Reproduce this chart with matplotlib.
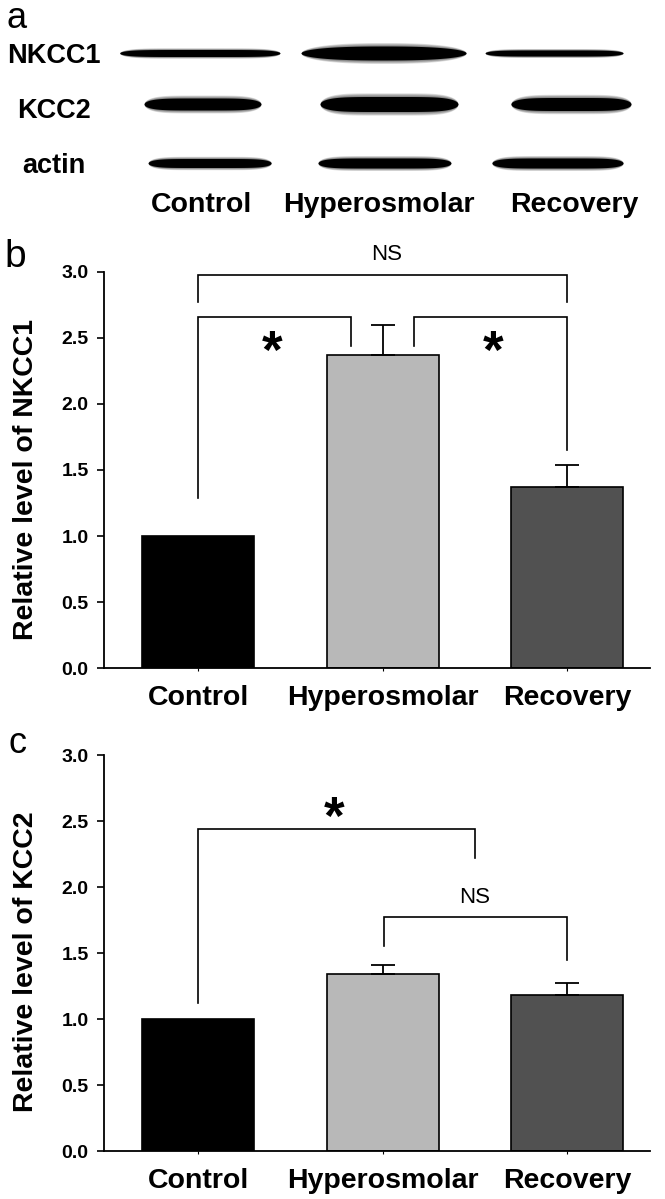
import numpy as np
import matplotlib
matplotlib.use("Agg")
import matplotlib.pyplot as plt

plt.rcParams['font.family'] = ['Liberation Sans', 'DejaVu Sans']

# ---------------- data ----------------
categories = ['Control', 'Hyperosmolar', 'Recovery']
bar_colors = ['#000000', '#b8b8b8', '#515151']

nkcc1_mean = [1.00, 2.37, 1.37]
nkcc1_err = [0.00, 0.23, 0.17]
kcc2_mean = [1.00, 1.34, 1.185]
kcc2_err = [0.00, 0.07, 0.085]

yticks = [0.0, 0.5, 1.0, 1.5, 2.0, 2.5, 3.0]

# brackets: (x_left, x_right, y_top, y_left_end, y_right_end)
nkcc1_brackets = [(0.0, 2.0, 2.98, 2.77, 2.77),
                  (0.0, 0.83, 2.66, 1.29, 2.44),
                  (1.17, 2.0, 2.66, 2.44, 1.65)]
nkcc1_marks = [('NS', 1.02, 3.13), ('*', 0.40, 2.47), ('*', 1.60, 2.47)]

kcc2_brackets = [(0.0, 1.50, 2.44, 1.12, 2.22),
                 (1.01, 2.0, 1.77, 1.555, 1.45)]
kcc2_marks = [('*', 0.74, 2.60), ('NS', 1.50, 1.92)]

# western blot (panel a): band extents in lane units and thickness in px
blot_rows = ['NKCC1', 'KCC2', 'actin']
blot_left = [[-0.425, 0.558, 1.556],
             [-0.293, 0.661, 1.696],
             [-0.271, 0.650, 1.593]]
blot_right = [[0.444, 1.453, 2.304],
              [0.341, 1.409, 2.347],
              [0.396, 1.371, 2.304]]
blot_thick = [[7, 14, 6],
              [12, 15, 13],
              [9, 10, 10]]
blot_shape = [[6, 2.5, 6],
              [5, 5, 5],
              [6, 6, 6]]

# ---------------- layout ----------------
W, H = 665, 1199
fig = plt.figure(figsize=(W / 100, H / 100), dpi=100)

ax_left = 104 / W
ax_width = (650 - 104) / W
xlim = (-0.51, 2.45)

def fy(px):
    return 1 - px / H

# panel a
row_y = [53, 104, 163]
ax_a = fig.add_axes([ax_left, fy(230), ax_width, 230 / H])
ax_a.set_xlim(*xlim)
ax_a.set_ylim(230, 0)
ax_a.axis('off')
layers = [(1.0 + 0.1 * k, 0.12) for k in range(5, 0, -1)] + [(1.0, 1.0)]
for r, name in enumerate(blot_rows):
    for j in range(3):
        l, rr = blot_left[r][j], blot_right[r][j]
        x = np.linspace(l, rr, 300)
        u = 2 * (x - (l + rr) / 2) / (rr - l)
        prof = np.clip(1 - np.abs(u) ** blot_shape[r][j], 0, None) ** 0.5
        t = blot_thick[r][j] / 2
        for scale, alpha in layers:
            ax_a.fill_between(x, row_y[r] - t * scale * prof,
                              row_y[r] + t * scale * prof,
                              color='black', alpha=alpha, lw=0)
row_label_base = [63, 118, 173]
for r, name in enumerate(blot_rows):
    fig.text(54 / W, fy(row_label_base[r]), name, ha='center', va='baseline',
             fontsize=19.5, fontweight='bold')
for j, cat in enumerate(categories):
    ax_a.text(j + [0.02, -0.02, 0.04][j], 212, cat, ha='center', va='baseline',
              fontsize=20.5, fontweight='bold')

fig.text(6 / W, fy(27.5), 'a', fontsize=26, ha='left', va='baseline')
fig.text(4 / W, fy(267), 'b', fontsize=28, ha='left', va='baseline')
fig.text(8 / W, fy(753), 'c', fontsize=26, ha='left', va='baseline')


def bar_panel(bottom_px, top_px, means, errs, brackets, marks, ylabel, ylab_center_px):
    ax = fig.add_axes([ax_left, fy(bottom_px), ax_width, (bottom_px - top_px) / H])
    x = np.arange(len(categories))
    ax.bar(x, means, width=0.607, color=bar_colors, edgecolor='black',
           linewidth=1.2, zorder=2)
    for xi, m, e in zip(x, means, errs):
        if e > 0:
            ax.errorbar(xi, m, yerr=[[0], [e]], fmt='none', ecolor='black',
                        elinewidth=1.3, capsize=8.5, capthick=1.3, zorder=3)
    for (x1, x2, yt, y1, y2) in brackets:
        ax.plot([x1, x1, x2, x2], [y1, yt, yt, y2], color='black', lw=1.2,
                zorder=4, solid_joinstyle='miter')
    for txt, mx, my in marks:
        if txt == '*':
            ax.annotate('*', xy=(mx, my), xytext=(0, -19), textcoords='offset points',
                        ha='center', va='baseline', fontsize=38, fontweight='bold')
        else:
            ax.text(mx, my, txt, ha='center', va='center', fontsize=16)
    ax.set_xlim(*xlim)
    ax.set_ylim(0, 3.0)
    ax.set_yticks(yticks)
    ax.set_yticklabels(['%.1f' % v for v in yticks], fontsize=14, fontweight='bold')
    ax.set_xticks(x)
    ax.set_xticklabels(categories, fontsize=20.5, fontweight='bold')
    ax.tick_params(axis='y', direction='out', length=5, width=1.2, pad=6)
    ax.tick_params(axis='x', direction='out', length=2.5, width=0.8, pad=10)
    for s in ['top', 'right']:
        ax.spines[s].set_visible(False)
    for s in ['left', 'bottom']:
        ax.spines[s].set_linewidth(1.3)
    fig.text(26 / W, fy(ylab_center_px), ylabel, rotation=90, ha='center',
             va='center', fontsize=20.5, fontweight='bold')
    return ax


bar_panel(668, 272, nkcc1_mean, nkcc1_err, nkcc1_brackets, nkcc1_marks,
          'Relative level of NKCC1', 480)
bar_panel(1151, 755, kcc2_mean, kcc2_err, kcc2_brackets, kcc2_marks,
          'Relative level of KCC2', 962)

fig.savefig('out.png', dpi=100)
